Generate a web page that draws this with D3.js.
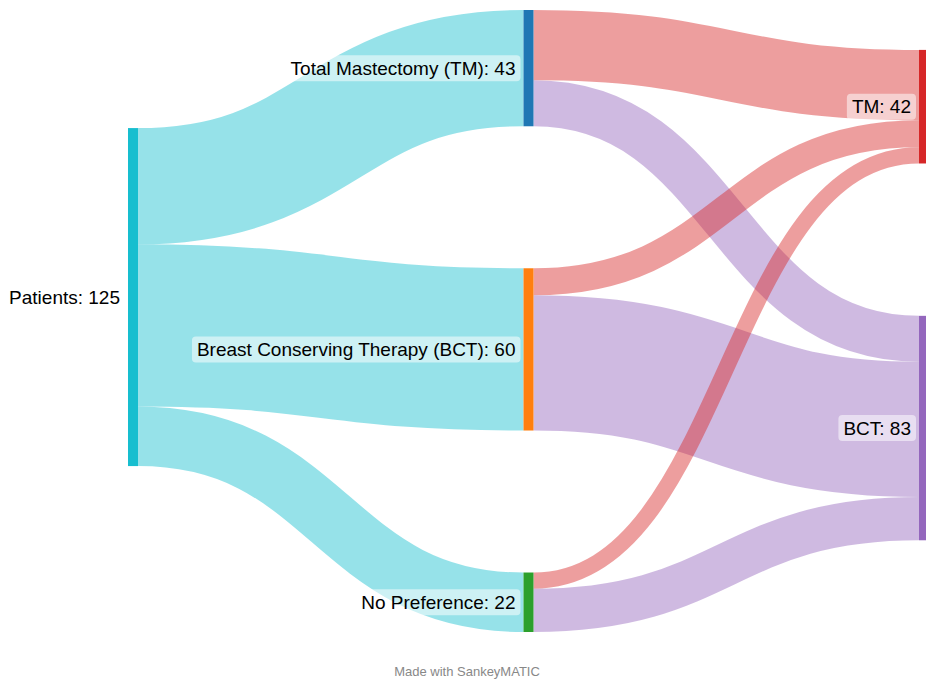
<!DOCTYPE html>
<html><head><meta charset="utf-8">
<script src="https://cdn.jsdelivr.net/npm/d3@7"></script>
<style>body{margin:0;background:#fff}svg{display:block}</style>
</head><body>
<svg id="chart" width="926" height="679"></svg>
<script>
// ---- data ----
const nodeNames = ["Patients", "Total Mastectomy (TM)", "Breast Conserving Therapy (BCT)", "No Preference", "TM", "BCT"];
const nodeColors = ["#17becf", "#1f77b4", "#ff7f0e", "#2ca02c", "#d62728", "#9467bd"];
const linkSources = [0, 0, 0, 1, 1, 2, 2, 3, 3];
const linkTargets = [1, 2, 3, 4, 5, 4, 5, 4, 5];
const linkValues  = [43, 60, 22, 26, 17, 10, 50, 6, 16];

// ---- layout (port of d3-sankey) ----
function sankey(nodesIn, linksIn, opt) {
  const {x0, y0, x1, y1, dx, padding, iterations} = opt;
  const nodes = nodesIn.map((d, i) => ({...d, index: i, sourceLinks: [], targetLinks: []}));
  const links = linksIn.map((d, i) => ({...d, index: i}));
  for (const l of links) {
    l.source = nodes[l.source]; l.target = nodes[l.target];
    l.source.sourceLinks.push(l); l.target.targetLinks.push(l);
  }
  for (const n of nodes) n.value = Math.max(d3.sum(n.sourceLinks, l => l.value), d3.sum(n.targetLinks, l => l.value));
  let current = new Set(nodes), next = new Set(), x = 0;
  while (current.size) {
    for (const node of current) { node.depth = x; for (const {target} of node.sourceLinks) next.add(target); }
    x++; current = next; next = new Set();
  }
  const n = d3.max(nodes, d => d.depth) + 1;
  const kx = (x1 - x0 - dx) / (n - 1);
  const columns = Array.from({length: n}, () => []);
  for (const node of nodes) {
    const i = node.sourceLinks.length ? node.depth : n - 1;
    node.layer = i; node.x0 = x0 + i * kx; node.x1 = node.x0 + dx;
    columns[i].push(node);
  }
  const py = Math.min(padding, (y1 - y0) / (d3.max(columns, c => c.length) - 1));
  const asc = (a, b) => a.y0 - b.y0;
  const ascS = (a, b) => asc(a.source, b.source) || a.index - b.index;
  const ascT = (a, b) => asc(a.target, b.target) || a.index - b.index;
  function reorderLinks(ns) { for (const {sourceLinks, targetLinks} of ns) { sourceLinks.sort(ascT); targetLinks.sort(ascS); } }
  function reorderNodeLinks({sourceLinks, targetLinks}) {
    for (const {source: {sourceLinks}} of targetLinks) sourceLinks.sort(ascT);
    for (const {target: {targetLinks}} of sourceLinks) targetLinks.sort(ascS);
  }
  const ky = d3.min(columns, c => (y1 - y0 - (c.length - 1) * py) / d3.sum(c, d => d.value));
  for (const col of columns) {
    let y = y0;
    for (const node of col) {
      node.y0 = y; node.y1 = y + node.value * ky; y = node.y1 + py;
      for (const link of node.sourceLinks) link.width = link.value * ky;
    }
    y = (y1 - y + py) / (col.length + 1);
    col.forEach((node, i) => { node.y0 += y * (i + 1); node.y1 += y * (i + 1); });
    reorderLinks(col);
  }
  function targetTop(source, target) {
    let y = source.y0 - (source.sourceLinks.length - 1) * py / 2;
    for (const {target: node, width} of source.sourceLinks) { if (node === target) break; y += width + py; }
    for (const {source: node, width} of target.targetLinks) { if (node === source) break; y -= width; }
    return y;
  }
  function sourceTop(source, target) {
    let y = target.y0 - (target.targetLinks.length - 1) * py / 2;
    for (const {source: node, width} of target.targetLinks) { if (node === source) break; y += width + py; }
    for (const {target: node, width} of source.sourceLinks) { if (node === target) break; y -= width; }
    return y;
  }
  function resolveTB(ns, y, i, a) { for (; i < ns.length; ++i) { const nd = ns[i]; const d = (y - nd.y0) * a; if (d > 1e-6) { nd.y0 += d; nd.y1 += d; } y = nd.y1 + py; } }
  function resolveBT(ns, y, i, a) { for (; i >= 0; --i) { const nd = ns[i]; const d = (nd.y1 - y) * a; if (d > 1e-6) { nd.y0 -= d; nd.y1 -= d; } y = nd.y0 - py; } }
  function resolve(ns, a) {
    const i = ns.length >> 1, s = ns[i];
    resolveBT(ns, s.y0 - py, i - 1, a); resolveTB(ns, s.y1 + py, i + 1, a);
    resolveBT(ns, y1, ns.length - 1, a); resolveTB(ns, y0, 0, a);
  }
  for (let it = 0; it < iterations; ++it) {
    const alpha = Math.pow(0.99, it), beta = Math.max(1 - alpha, (it + 1) / iterations);
    for (let i = columns.length - 2; i >= 0; --i) {
      const col = columns[i];
      for (const source of col) {
        let y = 0, w = 0;
        for (const {target, value} of source.sourceLinks) { const v = value * (target.layer - source.layer); y += sourceTop(source, target) * v; w += v; }
        if (!(w > 0)) continue;
        const d = (y / w - source.y0) * alpha; source.y0 += d; source.y1 += d; reorderNodeLinks(source);
      }
      col.sort(asc); resolve(col, beta);
    }
    for (let i = 1; i < columns.length; ++i) {
      const col = columns[i];
      for (const target of col) {
        let y = 0, w = 0;
        for (const {source, value} of target.targetLinks) { const v = value * (target.layer - source.layer); y += targetTop(source, target) * v; w += v; }
        if (!(w > 0)) continue;
        const d = (y / w - target.y0) * alpha; target.y0 += d; target.y1 += d; reorderNodeLinks(target);
      }
      col.sort(asc); resolve(col, beta);
    }
  }
  for (const node of nodes) {
    let a = node.y0, b = node.y0;
    for (const l of node.sourceLinks) { l.y0 = a + l.width / 2; a += l.width; }
    for (const l of node.targetLinks) { l.y1 = b + l.width / 2; b += l.width; }
  }
  return {nodes, links};
}

const graph = sankey(
  nodeNames.map((name, i) => ({name, color: nodeColors[i]})),
  linkSources.map((s, i) => ({source: s, target: linkTargets[i], value: linkValues[i]})),
  {x0: 128, y0: 10, x1: 929, y1: 632, dx: 10, padding: 142, iterations: 6}
);

const svg = d3.select("#chart");
const linkPath = d3.linkHorizontal().source(d => [d.source.x1, d.y0]).target(d => [d.target.x0, d.y1]);

svg.append("g").attr("fill", "none").selectAll("path")
  .data(graph.links).join("path")
  .attr("d", linkPath)
  .attr("stroke", d => d.source.layer === 0 ? d.source.color : d.target.color)
  .attr("stroke-opacity", 0.45)
  .attr("stroke-width", d => Math.max(1, d.width));

svg.append("g").selectAll("rect")
  .data(graph.nodes).join("rect")
  .attr("x", d => d.x0).attr("y", d => d.y0)
  .attr("width", d => d.x1 - d.x0).attr("height", d => d.y1 - d.y0)
  .attr("fill", d => d.color);

const lg = svg.append("g").attr("font-family", "'Liberation Sans', Arial, Helvetica, sans-serif").attr("font-size", 19);
graph.nodes.forEach(d => {
  const g = lg.append("g");
  const t = g.append("text")
    .attr("x", d.x0 - 8).attr("y", (d.y0 + d.y1) / 2)
    .attr("dy", "0.35em").attr("text-anchor", "end").attr("fill", "#000")
    .text(`${d.name}: ${d.value}`);
  const bb = t.node().getBBox();
  g.insert("rect", "text")
    .attr("x", bb.x - 5).attr("y", (d.y0 + d.y1) / 2 - 13)
    .attr("width", bb.width + 10).attr("height", 26)
    .attr("rx", 4).attr("fill", "#fff").attr("fill-opacity", 0.52);
});

svg.append("text")
  .attr("x", 467).attr("y", 671).attr("dy", "0.35em")
  .attr("text-anchor", "middle")
  .attr("font-family", "'Liberation Sans', Arial, Helvetica, sans-serif")
  .attr("font-size", 13).attr("fill", "#888")
  .text("Made with SankeyMATIC");
</script>
</body></html>
